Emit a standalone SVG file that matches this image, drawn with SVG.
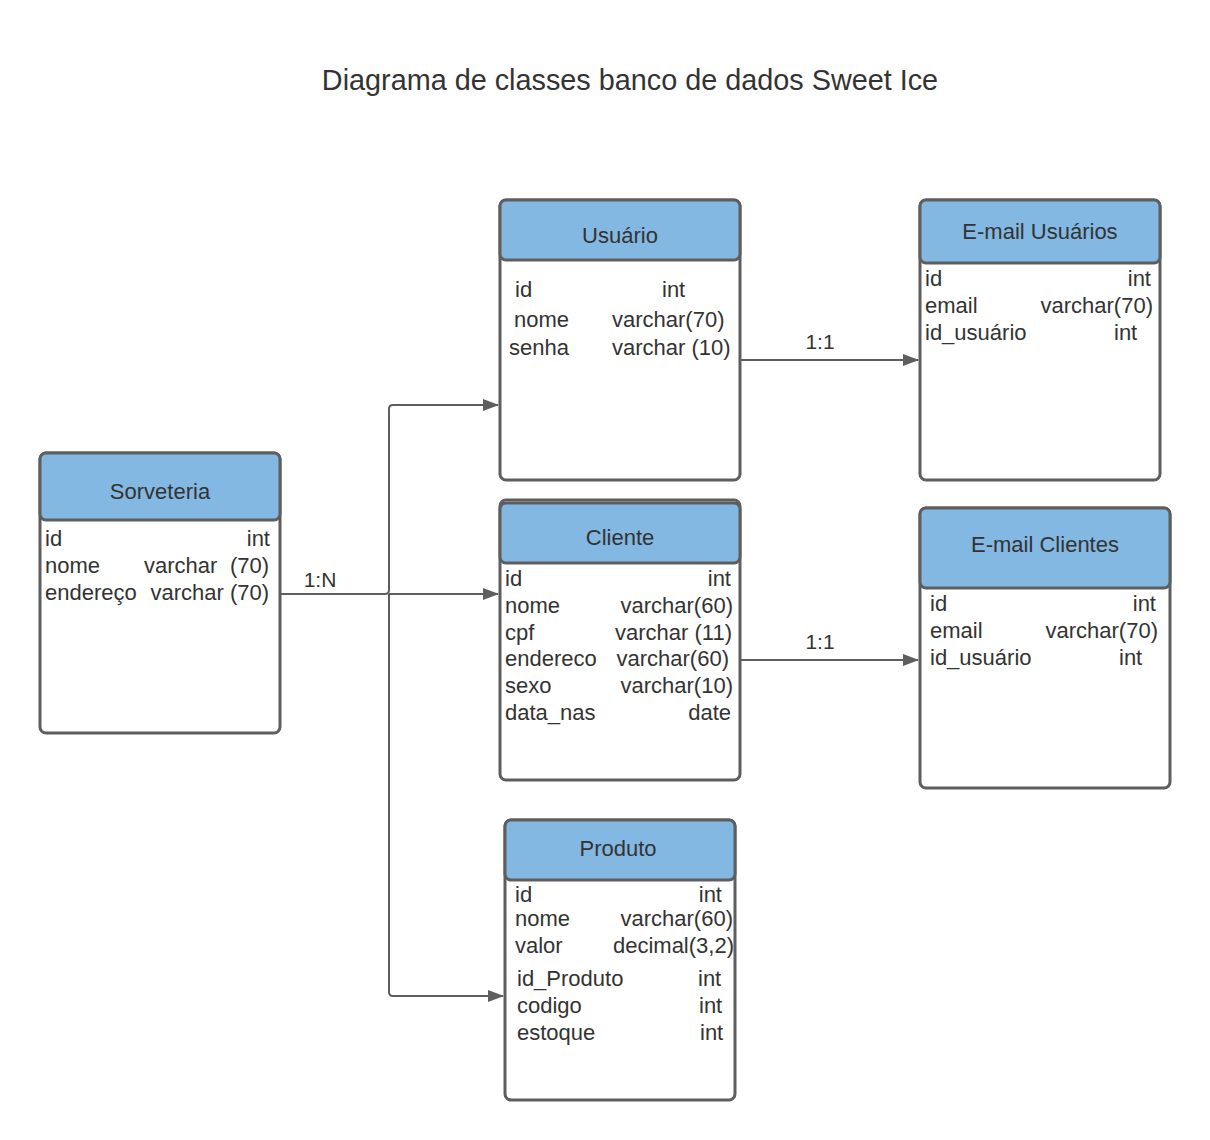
<svg xmlns="http://www.w3.org/2000/svg" width="1210" height="1140" viewBox="0 0 1210 1140">
  <defs>
    <marker id="arrow" markerUnits="userSpaceOnUse" markerWidth="16" markerHeight="12" refX="15" refY="6" orient="auto">
      <path d="M0,0 L16,6 L0,12 Z" fill="#5e5e5e"/>
    </marker>
  </defs>
  <style>
    text { font-family: "Liberation Sans", Arial, sans-serif; fill: #333333; }
    .title { font-size: 28.8px; }
    .hd { font-size: 22px; text-anchor: middle; }
    .at { font-size: 22px; }
    .r { text-anchor: end; }
    .lbl { font-size: 21px; text-anchor: middle; }
    .box { fill: #ffffff; stroke: #5e5e5e; stroke-width: 3; }
    .head { fill: #83b8e2; stroke: #5e5e5e; stroke-width: 3; }
    .conn { fill: none; stroke: #5e5e5e; stroke-width: 2; }
  </style>
  <rect width="1210" height="1140" fill="#ffffff"/>
  <text class="title" x="630" y="90" text-anchor="middle">Diagrama de classes banco de dados Sweet Ice</text>

  <g id="connectors">
    <path class="conn" d="M281,594 H385 Q389,594 389,590 V409 Q389,405 393,405 H498" marker-end="url(#arrow)"/>
    <path class="conn" d="M389,594 H498" marker-end="url(#arrow)"/>
    <path class="conn" d="M389,594 V992 Q389,996 393,996 H503" marker-end="url(#arrow)"/>
    <path class="conn" d="M741,360 H918" marker-end="url(#arrow)"/>
    <path class="conn" d="M741,660 H918" marker-end="url(#arrow)"/>
    <text class="lbl" x="320" y="587">1:N</text>
    <text class="lbl" x="820" y="349">1:1</text>
    <text class="lbl" x="820" y="649">1:1</text>
  </g>

  <g id="usuario">
    <rect class="box" x="500" y="200" width="240" height="280" rx="6"/>
    <rect class="head" x="500" y="200" width="240" height="60" rx="6"/>
    <text class="hd" x="620" y="243">Usuário</text>
    <text class="at" x="515" y="297">id</text>
    <text class="at" x="662" y="297">int</text>
    <text class="at" x="514" y="327">nome</text>
    <text class="at" x="612" y="327">varchar(70)</text>
    <text class="at" x="509" y="355">senha</text>
    <text class="at" x="612" y="355">varchar (10)</text>
  </g>

  <g id="email-usuarios">
    <rect class="box" x="920" y="200" width="240" height="280" rx="6"/>
    <rect class="head" x="920" y="200" width="240" height="63" rx="6"/>
    <text class="hd" x="1040" y="239">E-mail Usuários</text>
    <text class="at" x="925" y="286">id</text>
    <text class="at r" x="1151" y="286">int</text>
    <text class="at" x="925" y="313">email</text>
    <text class="at r" x="1153" y="313">varchar(70)</text>
    <text class="at" x="925" y="340">id_usuário</text>
    <text class="at" x="1114" y="340">int</text>
  </g>

  <g id="sorveteria">
    <rect class="box" x="40" y="453" width="240" height="280" rx="6"/>
    <rect class="head" x="40" y="453" width="240" height="67" rx="6"/>
    <text class="hd" x="160" y="499">Sorveteria</text>
    <text class="at" x="45" y="546">id</text>
    <text class="at r" x="270" y="546">int</text>
    <text class="at" x="45" y="573">nome</text>
    <text class="at" x="144" y="573">varchar</text>
    <text class="at r" x="269" y="573">(70)</text>
    <text class="at" x="45" y="600">endereço</text>
    <text class="at r" x="269" y="600">varchar (70)</text>
  </g>

  <g id="cliente">
    <rect class="box" x="500" y="500" width="240" height="280" rx="6"/>
    <rect class="head" x="500" y="503" width="240" height="60" rx="6"/>
    <text class="hd" x="620" y="545">Cliente</text>
    <text class="at" x="505" y="586">id</text>
    <text class="at r" x="731" y="586">int</text>
    <text class="at" x="505" y="613">nome</text>
    <text class="at r" x="733" y="613">varchar(60)</text>
    <text class="at" x="505" y="640">cpf</text>
    <text class="at r" x="732" y="640">varchar (11)</text>
    <text class="at" x="505" y="666">endereco</text>
    <text class="at r" x="729" y="666">varchar(60)</text>
    <text class="at" x="505" y="693">sexo</text>
    <text class="at r" x="733" y="693">varchar(10)</text>
    <text class="at" x="505" y="720">data_nas</text>
    <text class="at r" x="731" y="720">date</text>
  </g>

  <g id="email-clientes">
    <rect class="box" x="920" y="508" width="250" height="280" rx="6"/>
    <rect class="head" x="920" y="508" width="250" height="80" rx="6"/>
    <text class="hd" x="1045" y="552">E-mail Clientes</text>
    <text class="at" x="930" y="611">id</text>
    <text class="at r" x="1156" y="611">int</text>
    <text class="at" x="930" y="638">email</text>
    <text class="at r" x="1158" y="638">varchar(70)</text>
    <text class="at" x="930" y="665">id_usuário</text>
    <text class="at" x="1119" y="665">int</text>
  </g>

  <g id="produto">
    <rect class="box" x="505" y="820" width="230" height="280" rx="6"/>
    <rect class="head" x="505" y="820" width="230" height="60" rx="6"/>
    <text class="hd" x="618" y="856">Produto</text>
    <text class="at" x="515" y="902">id</text>
    <text class="at r" x="722" y="902">int</text>
    <text class="at" x="515" y="926">nome</text>
    <text class="at r" x="733" y="926">varchar(60)</text>
    <text class="at" x="515" y="953">valor</text>
    <text class="at r" x="734" y="953">decimal(3,2)</text>
    <text class="at" x="517" y="986">id_Produto</text>
    <text class="at" x="698" y="986">int</text>
    <text class="at" x="517" y="1013">codigo</text>
    <text class="at" x="699" y="1013">int</text>
    <text class="at" x="517" y="1040">estoque</text>
    <text class="at" x="700" y="1040">int</text>
  </g>
</svg>
